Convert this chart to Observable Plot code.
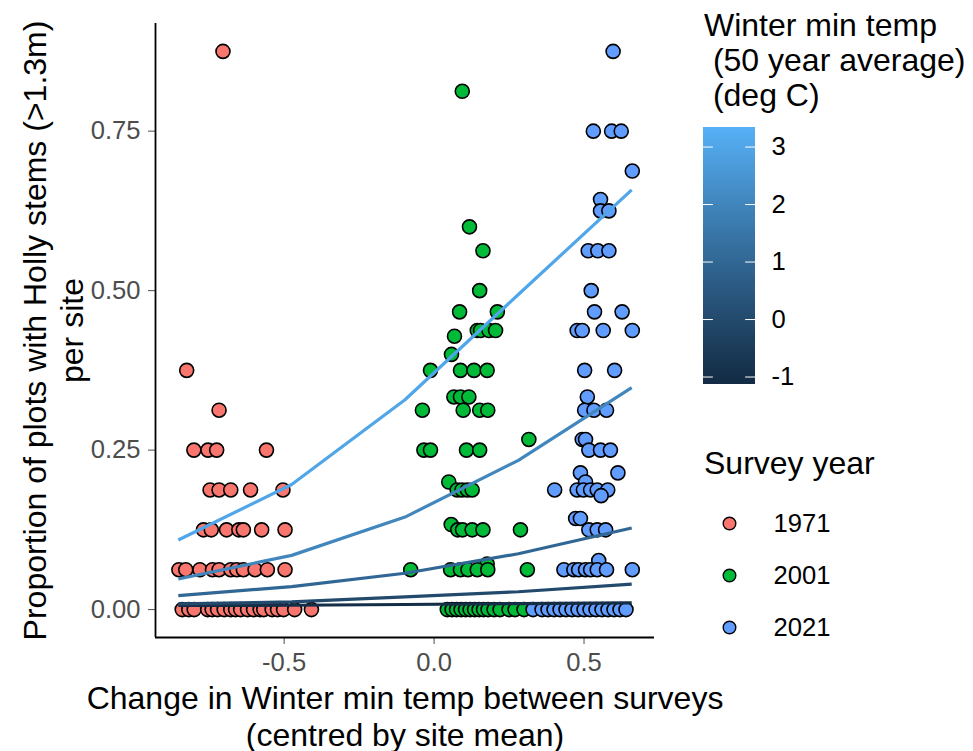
<!DOCTYPE html>
<html>
<head>
<meta charset="utf-8">
<script src="https://cdn.jsdelivr.net/npm/d3@7"></script>
<script src="https://cdn.jsdelivr.net/npm/@observablehq/plot@0.6"></script>
<style>
  html, body { margin: 0; padding: 0; background: white; }
  #chart { position: relative; width: 973px; height: 751px; background: white; font-family: "Liberation Sans", Arial, sans-serif; }
  #chart svg { position: absolute; }
  .ltitle { position: absolute; white-space: pre; font-size: 32px; line-height: 35px; color: black; font-family: "Liberation Sans", Arial, sans-serif; }
</style>
</head>
<body>
<div id="chart"></div>
<script>
// ---------------- data ----------------
const years = ["1971", "2001", "2021"];
const yearColors = ["#F8766D", "#00BA38", "#619CFF"];

const x1971 = [-0.704, -0.825, -0.717,
  -0.801, -0.754, -0.725, -0.559,
  -0.747, -0.717, -0.678, -0.612, -0.504,
  -0.769, -0.743, -0.692, -0.651, -0.636, -0.575, -0.497,
  -0.851, -0.828, -0.781, -0.739, -0.717, -0.678, -0.658, -0.636, -0.597, -0.556, -0.497,
  -0.840, -0.818, -0.800, -0.755, -0.740, -0.722, -0.700, -0.678, -0.662, -0.645, -0.622, -0.602, -0.580, -0.568, -0.540, -0.522, -0.502, -0.465, -0.409];
const y1971 = [0.875, 0.375, 0.3125,
  0.25, 0.25, 0.25, 0.25,
  0.1875, 0.1875, 0.1875, 0.1875, 0.1875,
  0.125, 0.125, 0.125, 0.125, 0.125, 0.125, 0.125,
  0.0625, 0.0625, 0.0625, 0.0625, 0.0625, 0.0625, 0.0625, 0.0625, 0.0625, 0.0625, 0.0625,
  0, 0, 0, 0, 0, 0, 0, 0, 0, 0, 0, 0, 0, 0, 0, 0, 0, 0, 0];

const x2001 = [0.094, 0.118, 0.163, 0.152,
  0.085, 0.211,
  0.144, 0.155, 0.183, 0.205,
  0.068, 0.058,
  -0.012, 0.088, 0.133, 0.177,
  0.066, 0.088, 0.116,
  -0.039, 0.097, 0.152, 0.179,
  0.316,
  -0.034, -0.012, 0.108, 0.152,
  0.049,
  0.077, 0.093, 0.111, 0.127,
  0.057,
  0.079, 0.095, 0.127, 0.163, 0.288,
  0.177,
  -0.078, 0.055, 0.088, 0.113, 0.144, 0.179, 0.311,
  0.044, 0.060, 0.075, 0.090, 0.105, 0.120, 0.135, 0.150, 0.165, 0.180, 0.200, 0.220, 0.250, 0.270, 0.300];
const y2001 = [0.8125, 0.6, 0.5625, 0.5,
  0.4667, 0.4667,
  0.4375, 0.4375, 0.4375, 0.4375,
  0.4286, 0.4,
  0.375, 0.375, 0.375, 0.375,
  0.3333, 0.3333, 0.3333,
  0.3125, 0.3125, 0.3125, 0.3125,
  0.2667,
  0.25, 0.25, 0.25, 0.25,
  0.2,
  0.1875, 0.1875, 0.1875, 0.1875,
  0.1333,
  0.125, 0.125, 0.125, 0.125, 0.125,
  0.0714,
  0.0625, 0.0625, 0.0625, 0.0625, 0.0625, 0.0625, 0.0625,
  0, 0, 0, 0, 0, 0, 0, 0, 0, 0, 0, 0, 0, 0, 0];

const x2021 = [0.597,
  0.531, 0.592, 0.624,
  0.661, 0.555,
  0.555, 0.583,
  0.514, 0.546, 0.583,
  0.524,
  0.535, 0.627,
  0.477, 0.494, 0.564, 0.661,
  0.502, 0.602,
  0.511,
  0.502, 0.533, 0.575,
  0.494, 0.505,
  0.516, 0.555, 0.588,
  0.488, 0.613,
  0.505,
  0.402, 0.477, 0.498, 0.522, 0.544, 0.579,
  0.557,
  0.472, 0.488,
  0.516, 0.544, 0.572,
  0.549,
  0.433, 0.466, 0.482, 0.505, 0.522, 0.544, 0.575, 0.661,
  0.33, 0.36, 0.38, 0.40, 0.42, 0.44, 0.46, 0.48, 0.50, 0.52, 0.54, 0.56, 0.58, 0.60, 0.62, 0.64];
const y2021 = [0.875,
  0.75, 0.75, 0.75,
  0.6875, 0.6429,
  0.625, 0.625,
  0.5625, 0.5625, 0.5625,
  0.5,
  0.4667, 0.4667,
  0.4375, 0.4375, 0.4375, 0.4375,
  0.375, 0.375,
  0.3333,
  0.3125, 0.3125, 0.3125,
  0.2667, 0.2667,
  0.25, 0.25, 0.25,
  0.2143, 0.2143,
  0.2,
  0.1875, 0.1875, 0.1875, 0.1875, 0.1875, 0.1875,
  0.1786,
  0.1429, 0.1429,
  0.125, 0.125, 0.125,
  0.0769,
  0.0625, 0.0625, 0.0625, 0.0625, 0.0625, 0.0625, 0.0625, 0.0625,
  0, 0, 0, 0, 0, 0, 0, 0, 0, 0, 0, 0, 0, 0, 0, 0];

// fitted curves: one per winter min temp value
const lineX = [-0.853, -0.475, -0.097, 0.281, 0.659];
const lineTemps = [-1, 0, 1, 2, 3];
const lineFitM1 = [0.0064, 0.0068, 0.0080, 0.0093, 0.0106];
const lineFit0 = [0.009, 0.012, 0.020, 0.028, 0.040];
const lineFit1 = [0.022, 0.036, 0.057, 0.0875, 0.128];
const lineFit2 = [0.048, 0.085, 0.145, 0.234, 0.348];
const lineFit3 = [0.109, 0.196, 0.329, 0.494, 0.658];
const lineFits = [lineFitM1, lineFit0, lineFit1, lineFit2, lineFit3];

// colourbar
const tempDomain = [-1.13, 3.34];
const tempColors = ["#132B43", "#56B1F7"];
const tempTicks = [-1, 0, 1, 2, 3];

// axes
const xTicks = [-0.5, 0, 0.5];
const yTicks = [0, 0.25, 0.5, 0.75];
const xDomain = [-0.929, 0.735];
const yDomain = [-0.04375, 0.91875];
const xTitle = "Change in Winter min temp between surveys\n(centred by site mean)";
const yTitle = "Proportion of plots with Holly stems (>1.3m)\nper site";
const cbTitle = "Winter min temp\n (50 year average)\n (deg C)";
const legTitle = "Survey year";

// ---------------- build ----------------
const FONT = "Liberation Sans, Arial, sans-serif";
const points = [];
[[x1971, y1971, "1971"], [x2001, y2001, "2001"], [x2021, y2021, "2021"]].forEach(([xs, ys, yr]) => {
  xs.forEach((x, i) => points.push({x, y: ys[i], year: yr}));
});

const tempColor = d3.scaleLinear().domain(tempDomain).range(tempColors).interpolate(d3.interpolateLab);

const lineMarks = lineTemps.map((t, k) =>
  Plot.line(lineX.map((x, i) => ({x, y: lineFits[k][i]})), {x: "x", y: "y", stroke: tempColor(t), strokeWidth: 3.2, strokeLinecap: "butt"})
);

const chart = document.getElementById("chart");

const main = Plot.plot({
  width: 680, height: 751,
  marginLeft: 155, marginRight: 26, marginTop: 23, marginBottom: 114,
  x: {domain: xDomain},
  y: {domain: yDomain},
  color: {domain: years, range: yearColors},
  style: {fontFamily: FONT, fontSize: "25.6px", background: "transparent", overflow: "visible"},
  marks: [
    Plot.axisY({ticks: yTicks, tickFormat: d => d.toFixed(2), tickSize: 7, tickPadding: 8, fontSize: 25.6, color: "#4D4D4D", label: null}),
    Plot.axisX({ticks: xTicks, tickFormat: d => d.toFixed(1), tickSize: 7, tickPadding: 8, fontSize: 25.6, color: "#4D4D4D", label: null}),
    Plot.dot(points, {x: "x", y: "y", fill: "year", stroke: "black", strokeWidth: 1.6, r: 7}),
    ...lineMarks,
    Plot.ruleX([xDomain[0]], {stroke: "black", strokeWidth: 1.8}),
    Plot.ruleY([yDomain[0]], {stroke: "black", strokeWidth: 1.8}),
    Plot.text([yTitle], {text: d => d, frameAnchor: "left", textAnchor: "middle", lineAnchor: "middle", rotate: -90, dx: -102.7, fontSize: 32, lineHeight: 1.15, fill: "black"}),
    Plot.text([xTitle], {text: d => d, frameAnchor: "bottom", textAnchor: "middle", lineAnchor: "middle", dy: 78, fontSize: 32, lineHeight: 1.15, fill: "black"})
  ]
});
main.style.left = "0px"; main.style.top = "0px";
chart.appendChild(main);

// colour bar
const step = (tempDomain[1] - tempDomain[0]) / 128;
const grad = d3.range(128).map(i => tempDomain[0] + i * step);
const cb = Plot.plot({
  width: 52 + 70, height: 257,
  marginLeft: 0, marginRight: 70, marginTop: 0, marginBottom: 0,
  x: {domain: [0, 1], axis: null},
  y: {domain: tempDomain},
  color: {type: "linear", domain: tempDomain, range: tempColors, interpolate: "lab"},
  style: {fontFamily: FONT, fontSize: "25.6px", background: "transparent", overflow: "visible"},
  marks: [
    Plot.rect(grad, {x1: 0, x2: 1, y1: d => d, y2: d => d + step * 1.05, fill: d => d + step / 2, shapeRendering: "crispEdges"}),
    Plot.ruleY(tempTicks, {x1: 0, x2: 0.19, stroke: "white", strokeWidth: 1}),
    Plot.ruleY(tempTicks, {x1: 0.81, x2: 1, stroke: "white", strokeWidth: 1}),
    Plot.axisY({anchor: "right", ticks: tempTicks, tickSize: 0, tickPadding: 16, tickFormat: d => String(d), fontSize: 25.6, color: "black", label: null})
  ]
});
cb.style.left = "703px"; cb.style.top = "127px";
chart.appendChild(cb);

// survey year legend
const leg = Plot.plot({
  width: 200, height: 158,
  marginLeft: 0, marginRight: 0, marginTop: 27, marginBottom: 27,
  x: {axis: null, domain: [0, 1]},
  y: {type: "point", domain: years, padding: 0, axis: null},
  color: {domain: years, range: yearColors},
  style: {fontFamily: FONT, fontSize: "25.6px", background: "transparent", overflow: "visible"},
  marks: [
    Plot.dot(years, {y: d => d, fill: d => d, frameAnchor: "left", dx: 29, r: 6.3, stroke: "black", strokeWidth: 1.4}),
    Plot.text(years, {y: d => d, text: d => d, frameAnchor: "left", dx: 73, textAnchor: "start", fontSize: 25.6, fill: "black"})
  ]
});
leg.style.left = "700px"; leg.style.top = "496px";
chart.appendChild(leg);

// legend titles
const t1 = document.createElement("div");
t1.className = "ltitle"; t1.textContent = cbTitle;
t1.style.left = "704px"; t1.style.top = "8px";
chart.appendChild(t1);
const t2 = document.createElement("div");
t2.className = "ltitle"; t2.textContent = legTitle;
t2.style.left = "704px"; t2.style.top = "446px";
chart.appendChild(t2);
</script>
</body>
</html>
